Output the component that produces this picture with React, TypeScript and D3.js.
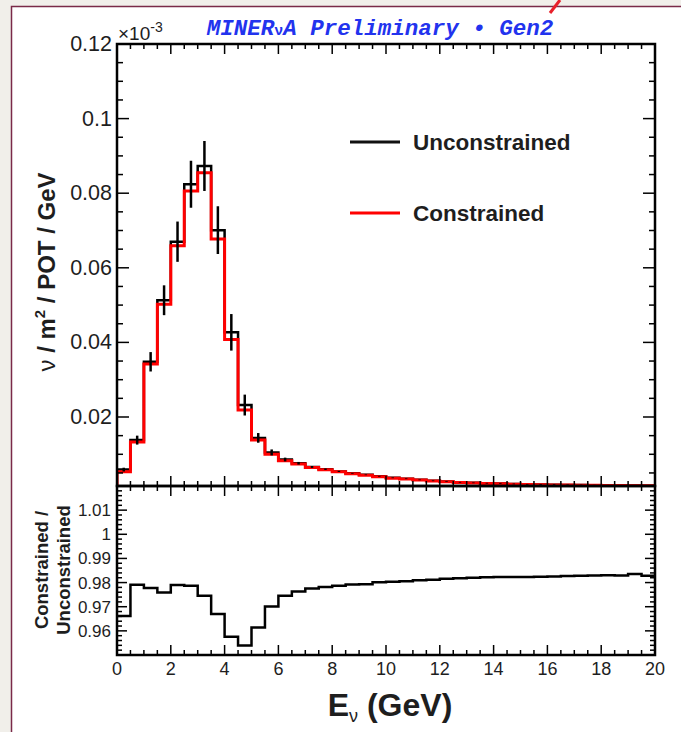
import * as d3 from 'd3';

// bin low edges (GeV), 0.5 GeV wide
const binLow = [
  0, 0.5, 1, 1.5, 2, 2.5, 3, 3.5, 4, 4.5, 5, 5.5, 6, 6.5, 7, 7.5, 8, 8.5, 9, 9.5,
  10, 10.5, 11, 11.5, 12, 12.5, 13, 13.5, 14, 14.5, 15, 15.5, 16, 16.5, 17, 17.5, 18, 18.5, 19, 19.5,
];
const binWidth = 0.5;

// flux in units of 1e-3 nu / m^2 / POT / GeV
const unconstrained = [
  5.9, 13.8, 34.8, 51.3, 67.0, 82.4, 87.3, 70.1, 42.7, 23.2, 14.4, 10.5, 8.6, 7.6, 6.6, 6.0, 5.4, 4.9, 4.5, 4.1,
  3.7, 3.45, 3.15, 2.9, 2.7, 2.5, 2.35, 2.25, 2.15, 2.05, 1.95, 1.9, 1.85, 1.8, 1.75, 1.7, 1.68, 1.65, 1.62, 1.6,
];
const constrained = [
  5.3, 13.3, 34.2, 50.2, 65.9, 80.6, 85.5, 67.7, 40.8, 21.9, 13.8, 10.0, 8.3, 7.4, 6.45, 5.85, 5.3, 4.8, 4.4, 4.0,
  3.6, 3.4, 3.1, 2.85, 2.65, 2.45, 2.3, 2.2, 2.1, 2.0, 1.9, 1.85, 1.8, 1.75, 1.7, 1.67, 1.65, 1.62, 1.6, 1.57,
];
const fluxError = [
  0.5, 1.2, 2.6, 4.0, 5.4, 6.3, 6.7, 6.4, 4.9, 2.8, 1.3, 0.8, 0.5, 0.35, 0.25, 0.2, 0.15, 0.1, 0.1, 0.1,
  0.1, 0.1, 0.1, 0.1, 0.1, 0.1, 0.1, 0.1, 0.1, 0.1, 0.1, 0.1, 0.1, 0.1, 0.1, 0.1, 0.1, 0.1, 0.1, 0.1,
];
const ratio = [
  0.9662, 0.9791, 0.9777, 0.9759, 0.979, 0.9787, 0.9745, 0.967, 0.9576, 0.9539, 0.9614, 0.9701, 0.9745, 0.9763,
  0.9775, 0.9782, 0.9787, 0.9792, 0.9793, 0.9801, 0.9803, 0.9805, 0.981, 0.9812, 0.9816, 0.9818, 0.982, 0.9822,
  0.9823, 0.9823, 0.9823, 0.9824, 0.9825, 0.9827, 0.9828, 0.9829, 0.983, 0.9829, 0.9835, 0.9828,
];

const xMajor = [0, 2, 4, 6, 8, 10, 12, 14, 16, 18, 20];
const fluxTicks = [20, 40, 60, 80, 100, 120];
const ratioTicks = [0.96, 0.97, 0.98, 0.99, 1, 1.01];

const W = 681;
const H = 732;
const left = 117;
const right = 655;
const upTop = 44;
const split = 486;
const lowBottom = 655;

const font = '"Liberation Sans", Arial, Helvetica, sans-serif';
const ink = '#1e1e1e';

export default function App() {
  const x = d3.scaleLinear().domain([0, 20]).range([left, right]);
  const yUp = d3.scaleLinear().domain([1.5, 120]).range([split, upTop]);
  const yLow = d3.scaleLinear().domain([0.95, 1.02]).range([lowBottom, split]);

  const xMinor = d3.range(0, 20.001, 0.5);
  const upMinor = d3.range(5, 120.001, 5).filter(v => v >= 1.5);
  const lowMinor = d3.range(0.95, 1.0201, 0.002);

  const line = (ys: d3.ScaleLinear<number, number>) =>
    d3.line<[number, number]>().x(d => x(d[0])).y(d => ys(d[1])).curve(d3.curveStepAfter);

  const histPts = (vals: number[]): [number, number][] => {
    const pts: [number, number][] = [[binLow[0], 1.5]];
    vals.forEach((v, i) => pts.push([binLow[i], v]));
    pts.push([binLow[binLow.length - 1] + binWidth, vals[vals.length - 1]]);
    return pts;
  };
  const ratioPts: [number, number][] = ratio.map((v, i) => [binLow[i], v] as [number, number]);
  ratioPts.push([binLow[binLow.length - 1] + binWidth, ratio[ratio.length - 1]]);

  const xTickMarks = (y0: number, dir: number) => (
    <g stroke="#000" strokeWidth={1.5}>
      {xMinor.map(v => {
        const major = xMajor.includes(v);
        return <line key={v} x1={x(v)} x2={x(v)} y1={y0} y2={y0 + dir * (major ? 10 : 5)} />;
      })}
    </g>
  );

  return (
    <svg width={W} height={H} style={{ position: 'absolute', left: 0, top: 0, background: '#fff' }}>
      <rect x={0} y={0} width={W} height={6} fill="#f1efea" />
      <rect x={0} y={0} width={11} height={H} fill="#f1efea" />
      <path d={`M11.5,${H} V6.5 H${W}`} fill="none" stroke="#7a2a48" strokeWidth={1.5} />
      <line x1={560} y1={0} x2={550} y2={13} stroke="#e8202a" strokeWidth={3} />

      <defs>
        <clipPath id="clipUp">
          <rect x={left} y={upTop} width={right - left} height={split - upTop} />
        </clipPath>
        <clipPath id="clipLow">
          <rect x={left} y={split} width={right - left} height={lowBottom - split} />
        </clipPath>
      </defs>

      {/* title */}
      <text x={380} y={35} textAnchor="middle" fill="#2233ee" fontFamily='"Liberation Mono", "Courier New", monospace'
        fontWeight="bold" fontStyle="italic" fontSize={22.5}>
        MINER<tspan fontSize={15} fontStyle="normal">ν</tspan>A Preliminary • Gen2
      </text>

      {/* upper panel */}
      <g clipPath="url(#clipUp)">
        <path d={line(yUp)(histPts(unconstrained)) || ''} fill="none" stroke="#000" strokeWidth={2.5} />
        <path d={line(yUp)(histPts(constrained)) || ''} fill="none" stroke="#ff0000" strokeWidth={3} />
        <g stroke="#000" strokeWidth={2.5}>
          {unconstrained.map((v, i) => {
            const cx = x(binLow[i] + binWidth / 2);
            return <line key={i} x1={cx} x2={cx} y1={yUp(v - fluxError[i])} y2={yUp(v + fluxError[i])} />;
          })}
        </g>
      </g>

      <g stroke="#000" strokeWidth={1.5}>
        {upMinor.map(v => {
          const major = fluxTicks.includes(v);
          const len = major ? 12 : 6;
          return (
            <g key={v}>
              <line x1={left} x2={left + len} y1={yUp(v)} y2={yUp(v)} />
              <line x1={right} x2={right - len} y1={yUp(v)} y2={yUp(v)} />
            </g>
          );
        })}
      </g>
      {xTickMarks(upTop, 1)}
      {xTickMarks(split, -1)}
      <rect x={left} y={upTop} width={right - left} height={split - upTop} fill="none" stroke="#000" strokeWidth={2.5} />

      <g fontFamily={font} fontSize={21.5} fill={ink} textAnchor="end">
        {fluxTicks.map(v => (
          <text key={v} x={left - 5} y={yUp(v) + 7}>{String(+(v / 1000).toFixed(3))}</text>
        ))}
      </g>
      <text x={left + 1} y={40} fontFamily={font} fontSize={19} fill={ink}>
        ×10<tspan fontSize={14} dy={-8}>-3</tspan>
      </text>

      <text transform={`translate(55,${272}) rotate(-90)`} textAnchor="middle" fontFamily={font} fontSize={24}
        fontWeight="bold" fill={ink}>
        <tspan fontWeight="normal">ν</tspan> / m<tspan fontSize={15} dy={-10}>2</tspan><tspan dy={10}> / POT / GeV</tspan>
      </text>

      {/* legend */}
      <line x1={350} x2={400} y1={142} y2={142} stroke="#111" strokeWidth={3} />
      <text x={413} y={150} fontFamily={font} fontSize={22.5} fontWeight="bold" fill={ink}>Unconstrained</text>
      <line x1={350} x2={400} y1={213} y2={213} stroke="#ff0000" strokeWidth={3} />
      <text x={413} y={221} fontFamily={font} fontSize={22.5} fontWeight="bold" fill={ink}>Constrained</text>

      {/* lower panel */}
      <g clipPath="url(#clipLow)">
        <path d={line(yLow)(ratioPts) || ''} fill="none" stroke="#000" strokeWidth={2.5} />
      </g>
      <g stroke="#000" strokeWidth={1.5}>
        {lowMinor.map((v, i) => {
          const major = ratioTicks.some(t => Math.abs(t - v) < 1e-6);
          const len = major ? 10 : 5;
          return (
            <g key={i}>
              <line x1={left} x2={left + len} y1={yLow(v)} y2={yLow(v)} />
              <line x1={right} x2={right - len} y1={yLow(v)} y2={yLow(v)} />
            </g>
          );
        })}
      </g>
      {xTickMarks(split, 1)}
      {xTickMarks(lowBottom, -1)}
      <rect x={left} y={split} width={right - left} height={lowBottom - split} fill="none" stroke="#000" strokeWidth={2.5} />

      <g fontFamily={font} fontSize={17} fill={ink} textAnchor="end">
        {ratioTicks.map(v => (
          <text key={v} x={left - 6} y={yLow(v) + 6}>{String(+v.toFixed(2))}</text>
        ))}
      </g>
      <g fontFamily={font} fontSize={18} fill={ink} textAnchor="middle">
        {xMajor.map(v => (
          <text key={v} x={x(v)} y={675}>{v}</text>
        ))}
      </g>

      <g transform={`translate(0,${570}) rotate(-90)`} fontFamily={font} fontSize={18.5} fontWeight="bold" fill={ink}
        textAnchor="middle">
        <text x={0} y={48}>Constrained /</text>
        <text x={0} y={70}>Unconstrained</text>
      </g>

      <text x={390} y={716} textAnchor="middle" fontFamily={font} fontSize={32} fontWeight="bold" fill={ink}>
        E<tspan fontSize={18} fontWeight="normal" dy={6}>ν</tspan><tspan dy={-6}> (GeV)</tspan>
      </text>
    </svg>
  );
}
